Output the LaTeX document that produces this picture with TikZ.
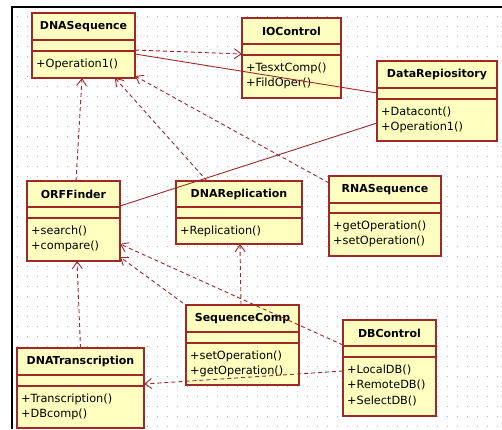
\documentclass[tikz,border=0pt]{standalone}
\usepackage{fontspec}
\setmainfont{DejaVu Sans}
\usetikzlibrary{arrows.meta}
\definecolor{umlred}{RGB}{160,40,40}
\definecolor{umlfill}{RGB}{255,255,192}
\definecolor{griddot}{RGB}{175,175,175}
\tikzset{
  clsbox/.style={draw=umlred, fill=umlfill, line width=1.2pt, inner sep=0pt, outer sep=0pt},
  clsline/.style={draw=umlred, line width=1.2pt},
  clsname/.style={inner sep=0pt, font=\fontsize{11}{13}\selectfont\bfseries},
  clsops/.style={anchor=base west, inner sep=0pt, font=\fontsize{11.3}{15.5}\selectfont},
  dep/.style={draw=umlred, line width=0.9pt, dash pattern=on 4pt off 3pt, -{Straight Barb[length=7pt,width=10pt]}},
  assoc/.style={draw=umlred, line width=0.9pt},
}
\newcommand{\umlop}[1]{\hbox{#1}}
% #1 id, #2 left, #3 top, #4 right, #5 bottom, #6 name divider, #7 attr divider, #8 title, #9 operations
\newcommand{\umlclass}[9]{%
  \node[clsbox, minimum width={(#4-#2)*1pt}, minimum height={(#5-#3)*1pt}, anchor=north west] (#1) at (#2,#3) {};
  \draw[clsline] (#2,#6) -- (#4,#6) (#2,#7) -- (#4,#7);
  \node[clsname] (#1-name) at ({(#2+#4)/2},{(#3+#6)/2}) {#8};
  \node[clsops] (#1-ops) at (#2+4,#7+16) {\vtop{#9}};
}
\begin{document}
\begin{tikzpicture}[x=1pt,y=-1pt]
\useasboundingbox (0,0) rectangle (502,429);
\fill[white] (0,0) rectangle (502,429);
% dotted grid
\foreach \x in {17,27,...,497} {
  \foreach \y in {16,26,...,426} {
    \fill[griddot] (\x-0.5,\y-0.5) rectangle ++(1,1);
  }
}
% frame
\draw[black, line width=1.3pt] (12,429) -- (12,7) -- (502,7);

% classes
\umlclass{dnaseq}{32}{13}{135}{78}{40}{51}{DNASequence}{\umlop{+Operation1()}}
\umlclass{ioctl}{242}{18}{341}{98}{44}{55}{IOControl}{\umlop{+TesxtComp()}\umlop{+FildOper()}}
\umlclass{datarep}{377}{61}{497}{141}{88}{99}{DataRepiository}{\umlop{+Datacont()}\umlop{+Operation1()}}
\umlclass{orf}{27}{181}{120}{261}{207}{218}{ORFFinder}{\umlop{+search()}\umlop{+compare()}}
\umlclass{dnarep}{176}{181}{302}{244}{207}{218}{DNAReplication}{\umlop{+Replication()}}
\umlclass{rnaseq}{329}{176}{441}{256}{203}{213}{RNASequence}{\umlop{+getOperation()}\umlop{+setOperation()}}
\umlclass{seqcomp}{186}{305}{299}{385}{332}{343}{SequenceComp}{\umlop{+setOperation()}\umlop{+getOperation()}}
\umlclass{dbctl}{343}{320}{436}{416}{346}{357}{DBControl}{\umlop{+LocalDB()}\umlop{+RemoteDB()}\umlop{+SelectDB()}}
\umlclass{dnatrans}{17}{348}{144}{428}{375}{386}{DNATranscription}{\umlop{+Transcription()}\umlop{+DBcomp()}}

% associations
\draw[assoc] ([yshift=-41pt]dnaseq.north east) -- ([yshift=-32pt]datarep.north west);
\draw[assoc] ([yshift=-25pt]orf.north east) -- ([yshift=-62pt]datarep.north west);

% dependencies
\draw[dep] ([yshift=-37pt]dnaseq.north east) -- ([yshift=-36pt]ioctl.north west);
\draw[dep] ([xshift=2.5pt]orf.north) -- ([xshift=-1.5pt]dnaseq.south);
\draw[dep] ([xshift=-32pt]dnarep.north) -- ([xshift=-20pt]dnaseq.south east);
\draw[dep] ([yshift=-7pt]rnaseq.north west) -- ([yshift=2pt]dnaseq.south east);
\draw[dep] (dnatrans.north) -- ([xshift=3.5pt]orf.south);
\draw[dep] ([xshift=-3pt,yshift=2pt]seqcomp.north west) -- ([yshift=4pt]orf.south east);
\draw[dep] ([yshift=-25pt]dbctl.north west) -- ([yshift=17pt]orf.south east);
\draw[dep] ([xshift=-1.5pt]seqcomp.north) -- ([xshift=1pt]dnarep.south);
\draw[dep] ([yshift=-51pt]dbctl.north west) -- ([yshift=-36pt]dnatrans.north east);
\end{tikzpicture}
\end{document}
